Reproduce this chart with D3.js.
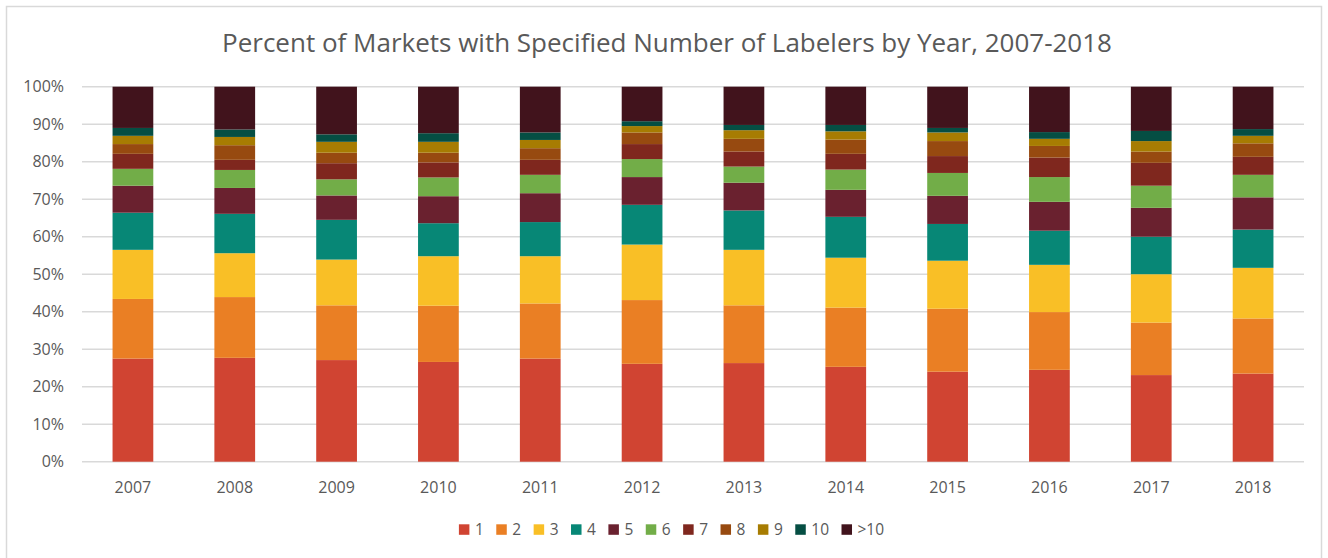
<!DOCTYPE html>
<html><head><meta charset="utf-8">
<script src="https://cdn.jsdelivr.net/npm/d3@7"></script>
<style>
html,body{margin:0;padding:0;background:#fff;}
svg{display:block;font-family:"Open Sans","Liberation Sans",sans-serif;}
</style></head>
<body><svg id="chart" width="1328" height="558"></svg>
<script>
const years = ["2007","2008","2009","2010","2011","2012","2013","2014","2015","2016","2017","2018"];
const seriesNames = ["1","2","3","4","5","6","7","8","9","10",">10"];
const s1  = [27.5,27.7,27.1,26.6,27.5,26.1,26.3,25.3,24.0,24.5,23.1,23.5];
const s2  = [15.9,16.2,14.6,15.0,14.7,17.0,15.4,15.8,16.8,15.4,14.0,14.7];
const s3  = [13.1,11.7,12.2,13.2,12.6,14.8,14.8,13.3,12.8,12.6,12.9,13.5];
const s4  = [9.9,10.5,10.6,8.8,9.1,10.6,10.5,10.9,9.8,9.1,10.0,10.2];
const s5  = [7.2,6.9,6.5,7.2,7.7,7.4,7.4,7.2,7.5,7.7,7.7,8.6];
const s6  = [4.5,4.8,4.3,5.0,4.9,4.8,4.3,5.4,6.1,6.6,5.9,6.0];
const s7  = [4.0,2.7,4.3,4.0,4.0,4.0,4.0,4.2,4.5,5.2,6.1,4.8];
const s8  = [2.6,3.9,2.8,2.6,3.1,3.1,3.4,3.8,4.0,3.1,3.0,3.6];
const s9  = [2.2,2.2,2.9,2.9,2.2,1.7,2.3,2.2,2.3,1.9,2.8,2.0];
const s10 = [2.1,2.0,2.0,2.3,2.0,1.3,1.4,1.7,1.2,1.8,2.7,1.8];
const sGt10 = [11.0,11.4,12.7,12.4,12.2,9.2,10.2,10.2,11.0,12.1,11.8,11.3];
const yTicks = [0,10,20,30,40,50,60,70,80,90,100];
const colors = ["#D04432","#EA7F24","#F9BF26","#078776","#6A212F","#72AD48","#7F271E","#974A10","#A77C02","#054E43","#41131C"];
const title = "Percent of Markets with Specified Number of Labelers by Year, 2007-2018";

(function(){
const allSeries = [s1,s2,s3,s4,s5,s6,s7,s8,s9,s10,sGt10];
const rows = years.map((yr,i)=>{
  const r = {year:yr};
  seriesNames.forEach((k,j)=>{ r[k] = allSeries[j][i]; });
  return r;
});
const stacked = d3.stack().keys(seriesNames)(rows);

const svg = d3.select("#chart");
svg.append("rect").attr("x",6.5).attr("y",6.5).attr("width",1315).attr("height",570)
  .attr("fill","#fff").attr("stroke","#d9d9d9").attr("stroke-width",1.5);

const pL = 82, pR = 1304, pT = 86.7, pB = 461.7;
const x = d3.scaleBand().domain(years).range([pL,pR]).paddingInner(0.6).paddingOuter(0.3);
const y = d3.scaleLinear().domain([0,100]).range([pB,pT]);

svg.append("g").selectAll("line").data(yTicks).join("line")
  .attr("x1",pL).attr("x2",pR)
  .attr("y1",d=>y(d)).attr("y2",d=>y(d))
  .attr("stroke","#d9d9d9").attr("stroke-width",1.5);

svg.append("g").selectAll("text").data(yTicks).join("text")
  .attr("x",64).attr("y",d=>y(d)).attr("dy","0.36em")
  .attr("text-anchor","end").attr("fill","#595959").attr("font-size",16)
  .text(d=>d+"%");

svg.append("g").selectAll("g").data(stacked).join("g")
  .attr("fill",(d,i)=>colors[i])
  .selectAll("rect").data(d=>d).join("rect")
  .attr("x",d=>x(d.data.year))
  .attr("width",x.bandwidth())
  .attr("y",d=>y(d[1]))
  .attr("height",d=>y(d[0])-y(d[1]));

svg.append("g").selectAll("text").data(years).join("text")
  .attr("x",d=>x(d)+x.bandwidth()/2).attr("y",493)
  .attr("text-anchor","middle").attr("fill","#595959").attr("font-size",16)
  .text(d=>d);

svg.append("text").attr("x",667).attr("y",52).attr("text-anchor","middle")
  .attr("fill","#595959").attr("font-size",26).text(title);

const lg = svg.append("g");
const items = lg.selectAll("g").data(seriesNames).join("g");
items.append("rect").attr("width",10.5).attr("height",10.5).attr("y",-10.7).attr("fill",(d,i)=>colors[i]);
items.append("text").attr("x",16).attr("y",0).attr("fill","#595959").attr("font-size",15.5).text(d=>d);
const gap = 12.5;
let cx = 0;
items.each(function(){
  const g = d3.select(this);
  g.attr("transform",`translate(${cx},0)`);
  const tw = g.select("text").node().getComputedTextLength();
  cx += 16 + tw + gap;
});
const totalW = cx - gap;
lg.attr("transform",`translate(${671.5 - totalW/2},535)`);
})();
</script></body></html>
